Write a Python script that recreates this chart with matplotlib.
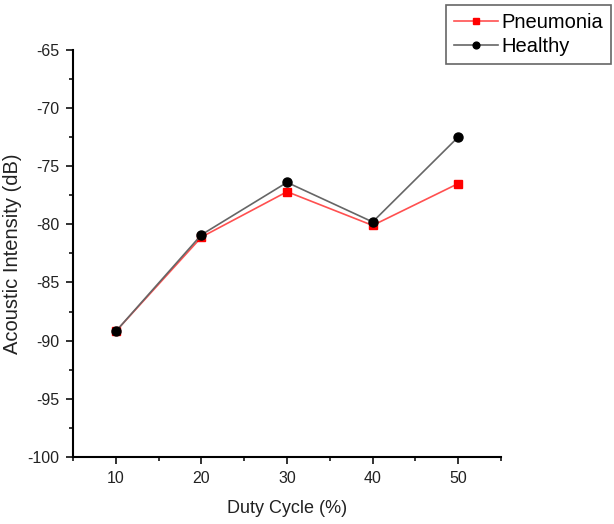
import matplotlib.pyplot as plt
from matplotlib.ticker import MultipleLocator

plt.rcParams["font.family"] = ["Liberation Sans", "DejaVu Sans"]
plt.rcParams["axes.unicode_minus"] = False

# data
duty_cycle = [10, 20, 30, 40, 50]
pneumonia = [-89.2, -81.1, -77.2, -80.1, -76.5]
healthy = [-89.2, -80.9, -76.4, -79.8, -72.5]

fig = plt.figure(figsize=(6.14, 5.24), dpi=100)
ax = fig.add_axes([0.119, 0.128, 0.697, 0.777])

ax.plot(duty_cycle, pneumonia, color="#ff5050", linewidth=1.2,
        marker="s", markersize=6, markerfacecolor="#ff0000",
        markeredgecolor="#ff0000", label="Pneumonia")
ax.plot(duty_cycle, healthy, color="#666666", linewidth=1.2,
        marker="o", markersize=6.5, markerfacecolor="black",
        markeredgecolor="black", label="Healthy")

ax.set_xlim(5, 55)
ax.set_ylim(-100, -65)
ax.xaxis.set_major_locator(MultipleLocator(10))
ax.xaxis.set_minor_locator(MultipleLocator(5))
ax.yaxis.set_major_locator(MultipleLocator(5))
ax.yaxis.set_minor_locator(MultipleLocator(2.5))

ax.spines["top"].set_visible(False)
ax.spines["right"].set_visible(False)
ax.spines["left"].set_linewidth(1.5)
ax.spines["bottom"].set_linewidth(1.5)

ax.tick_params(which="major", direction="out", length=5, width=1.3,
               labelsize=11.5, colors="#222222", pad=5)
ax.tick_params(which="minor", direction="out", length=3, width=1.1)

ax.set_xlabel("Duty Cycle (%)", fontsize=13, color="#222222", labelpad=10)
ax.set_ylabel("Acoustic Intensity (dB)", fontsize=14.5, color="#222222")
ax.yaxis.set_label_coords(-0.12, 0.5)

leg = fig.legend(loc="upper right", bbox_to_anchor=(0.995, 0.99),
                 fontsize=14.5, fancybox=False, framealpha=1,
                 handlelength=2.2, handletextpad=0.15, borderpad=0.4,
                 labelspacing=0.22, borderaxespad=0, markerscale=0.75)
leg.get_frame().set_edgecolor("#666666")
leg.get_frame().set_linewidth(1.2)

fig.savefig("out.png", dpi=100)
